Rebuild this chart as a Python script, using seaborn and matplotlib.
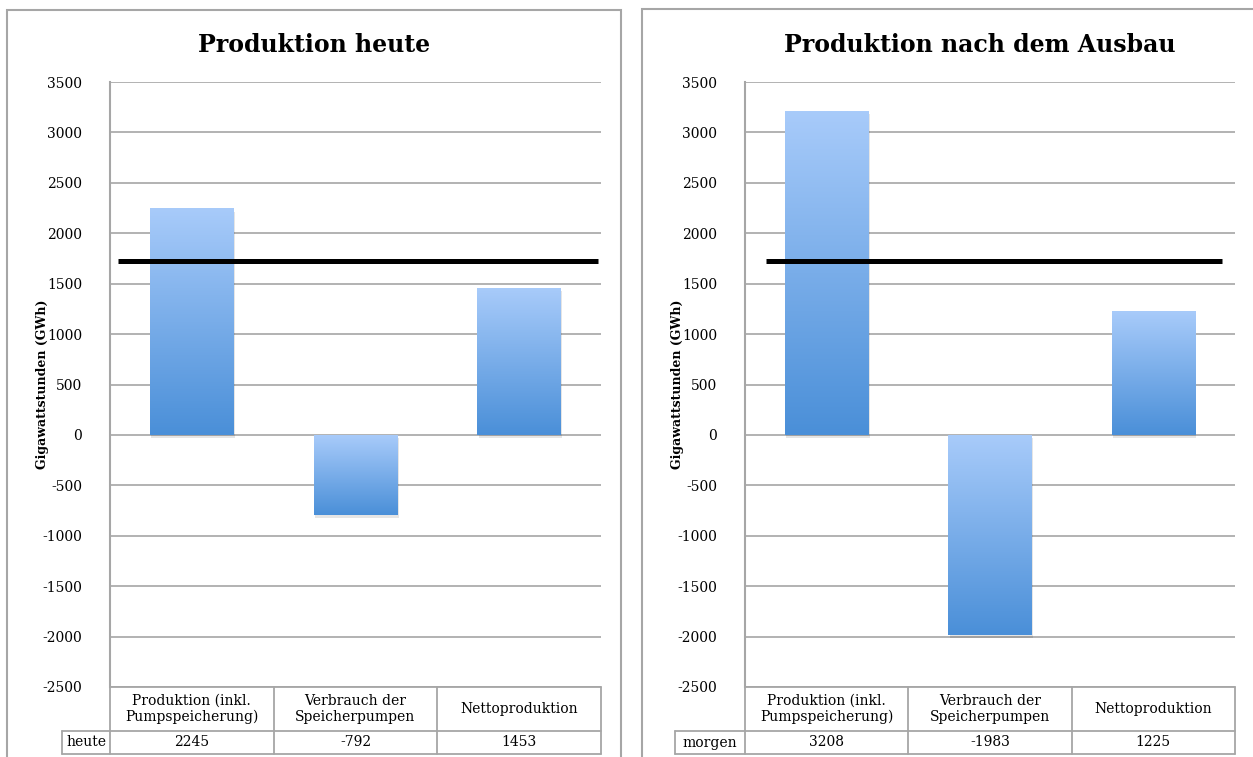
import numpy as np
import pandas as pd
import seaborn as sns
import matplotlib.pyplot as plt
from matplotlib.patches import Rectangle
from matplotlib.colors import LinearSegmentedColormap

# data
categories = ['Produktion (inkl.\nPumpspeicherung)', 'Verbrauch der\nSpeicherpumpen', 'Nettoproduktion']
heute = [2245, -792, 1453]
morgen = [3208, -1983, 1225]
row_labels = ['heute', 'morgen']
titles = ['Produktion heute', 'Produktion nach dem Ausbau']
yticks = list(range(-2500, 3501, 500))
ref_level = 1720

sns.set_style('white')
plt.rcParams['font.family'] = ['DejaVu Serif']
plt.rcParams['text.color'] = 'black'
plt.rcParams['axes.labelcolor'] = 'black'
plt.rcParams['ytick.color'] = 'black'

grey = '#a6a6a6'
grad = LinearSegmentedColormap.from_list('bar', ['#4a8fd8', '#a8cbfa'])

fig = plt.figure(figsize=(12.53, 7.57), dpi=100)

# panel frames (figure pixel coords -> fractions)
W, H = 1253, 757
fig.patches.append(Rectangle((7 / W, -0.05), (621 - 7) / W, 1.05 - 10 / H,
                             transform=fig.transFigure, fill=False, ec=grey, lw=1.5))
fig.patches.append(Rectangle((642 / W, -0.05), 0.5, 1.05 - 9 / H,
                             transform=fig.transFigure, fill=False, ec=grey, lw=1.5))

panels = [
    dict(vals=heute, label=row_labels[0], title=titles[0], left=110, right=601, lab_left=62,
         line=(-0.45, 2.48), center=314),
    dict(vals=morgen, label=row_labels[1], title=titles[1], left=745, right=1235, lab_left=675,
         line=(-0.37, 2.42), center=980),
]

top, bottom = 82, 687
for p in panels:
    width = p['right'] - p['left']
    ax = fig.add_axes([p['left'] / W, 1 - bottom / H, width / W, (bottom - top) / H])
    df = pd.DataFrame({'cat': categories, 'val': p['vals']})
    sns.barplot(data=df, x='cat', y='val', ax=ax, width=0.51, color='#7aaeea', saturation=1)

    ax.set_ylim(-2500, 3500)
    ax.set_xlim(-0.5, 2.5)
    ax.set_yticks(yticks)
    ax.set_yticklabels([str(t) for t in yticks], fontsize=10)
    ax.tick_params(axis='y', length=0, pad=20)
    ax.set_xticks([])
    ax.set_xlabel('')
    ax.set_ylabel('Gigawattstunden (GWh)', fontsize=9, fontweight='bold')
    ax.yaxis.set_label_coords(-61 / width, 0.5)
    for t in yticks:
        ax.axhline(t, color=grey, lw=1.2, zorder=0)
    for s in ['top', 'right', 'bottom']:
        ax.spines[s].set_visible(False)
    ax.spines['left'].set_color(grey)
    ax.spines['left'].set_linewidth(1.5)

    # gradient fill on the bars
    g = np.linspace(0, 1, 256).reshape(-1, 1)
    for bar in list(ax.patches):
        x0, y0 = bar.get_x(), bar.get_y()
        w, h = bar.get_width(), bar.get_height()
        lo, hi = min(y0, y0 + h), max(y0, y0 + h)
        ax.add_patch(Rectangle((x0 + 0.008, lo - 30), w, hi - lo, fc='#000000', alpha=0.1,
                               ec='none', zorder=1))
        ax.imshow(g, cmap=grad, origin='lower', aspect='auto',
                  extent=[x0, x0 + w, lo, hi], zorder=2)
        bar.set_facecolor('none')
        bar.set_edgecolor('none')
    ax.set_ylim(-2500, 3500)
    ax.set_xlim(-0.5, 2.5)

    ax.hlines(ref_level, p['line'][0], p['line'][1], color='black', lw=3.6, zorder=3)

    # data table under the plot
    tr = ax.transAxes
    hdr = -(731 - 687) / (bottom - top)
    bot = -(754 - 687) / (bottom - top)
    labx = (p['lab_left'] - p['left']) / width
    kw = dict(transform=tr, clip_on=False, color=grey, lw=1.3)
    ax.plot([0, 1], [0, 0], **kw)
    ax.plot([labx, 1], [hdr, hdr], **kw)
    ax.plot([labx, 1], [bot, bot], **kw)
    for xc in [0, 1 / 3, 2 / 3, 1]:
        ax.plot([xc, xc], [bot, 0], **kw)
    ax.plot([labx, labx], [bot, hdr], **kw)
    for i, (c, v) in enumerate(zip(categories, p['vals'])):
        xc = (i + 0.5) / 3
        ax.text(xc, hdr / 2, c, transform=tr, ha='center', va='center', fontsize=10,
                linespacing=1.2)
        ax.text(xc, (hdr + bot) / 2, str(v), transform=tr, ha='center', va='center', fontsize=10)
    ax.text(labx / 2, (hdr + bot) / 2, p['label'], transform=tr, ha='center', va='center',
            fontsize=10)

    fig.text(p['center'] / W, 1 - 45 / H, p['title'], ha='center', va='center',
             fontsize=17, fontweight='bold')

fig.savefig('out.png', dpi=100)
